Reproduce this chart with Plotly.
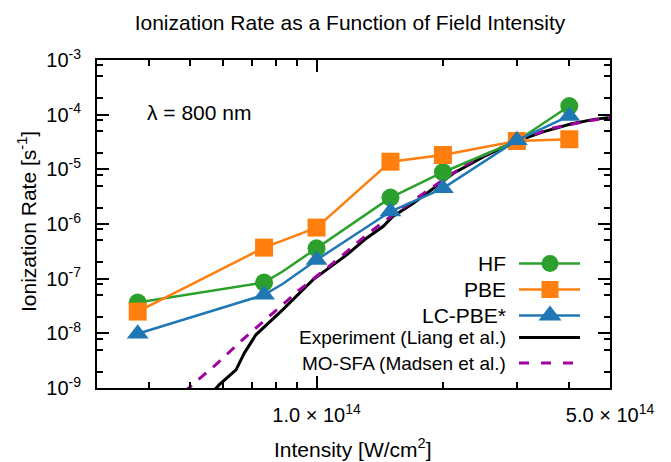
import math
import plotly.graph_objects as go

# ---------------- data ----------------
calc_intensity = [3.75e13, 7.5e13, 1.0e14, 1.5e14, 2.0e14, 3.0e14, 4.0e14]
hf_rate = [3.66e-8, 8.5e-8, 3.6e-7, 3.04e-6, 8.85e-6, 3.3e-5, 1.44e-4]
pbe_rate = [2.5e-8, 3.7e-7, 8.6e-7, 1.38e-5, 1.83e-5, 3.3e-5, 3.55e-5]
lcpbe_rate = [9.8e-9, 5.06e-8, 2.2e-7, 1.69e-6, 4.5e-6, 3.4e-5, 9.5e-5]

# unmarked intermediate point on the HF and LC-PBE* curves
mid_intensity = 8.3e13
hf_mid_rate = 1.35e-7
lcpbe_mid_rate = 8.0e-8

exp_intensity = [5.7e13, 5.86e13, 6.43e13, 6.73e13, 7.17e13, 8.3e13, 9.8e13, 1.18e14,
                 1.315e14, 1.44e14, 1.52e14, 1.70e14, 1.90e14, 2.12e14, 2.50e14,
                 3.0e14, 3.48e14, 4.03e14, 4.58e14, 5.02e14]
exp_rate = [9.0e-10, 1.14e-9, 2.15e-9, 4.35e-9, 9.4e-9, 2.69e-8, 9.5e-8, 2.72e-7,
            5.5e-7, 9.0e-7, 1.37e-6, 2.4e-6, 4.5e-6, 8.5e-6, 1.71e-5,
            3.3e-5, 4.9e-5, 6.76e-5, 8.2e-5, 8.95e-5]

sfa_intensity = [4.84e13, 5.06e13, 5.75e13, 6.66e13, 7.86e13, 9.1e13, 1.094e14, 1.315e14,
                 1.52e14, 1.76e14, 2.08e14, 2.41e14, 3.0e14, 3.61e14, 4.34e14, 5.02e14]
sfa_rate = [8.5e-10, 1.15e-9, 2.65e-9, 7.6e-9, 2.34e-8, 6.2e-8, 1.92e-7, 6.3e-7,
            1.47e-6, 3.17e-6, 7.9e-6, 1.6e-5, 3.3e-5, 5.6e-5, 7.45e-5, 8.95e-5]

x_tick_vals = [1e14, 5e14]
x_tick_text = ["1.0 × 10<sup>14</sup>", "5.0 × 10<sup>14</sup>"]
x_minor_vals = [3e13, 4e13, 5e13, 6e13, 7e13, 8e13, 9e13, 2e14, 3e14, 4e14]
y_tick_vals = [1e-9, 1e-8, 1e-7, 1e-6, 1e-5, 1e-4, 1e-3]
y_tick_text = ["10<sup>-9</sup>", "10<sup>-8</sup>", "10<sup>-7</sup>", "10<sup>-6</sup>",
               "10<sup>-5</sup>", "10<sup>-4</sup>", "10<sup>-3</sup>"]
y_minor_vals = [m * 10.0 ** e for e in range(-9, -3) for m in (2, 5, 8)]

legend_names = ["HF", "PBE", "LC-PBE*", "Experiment (Liang et al.)", "MO-SFA (Madsen et al.)"]

# ---------------- styles ----------------
FONT = "Liberation Sans, Arial, sans-serif"
C_HF, C_PBE, C_LC = "#2ca02c", "#ff7f0e", "#1f77b4"
C_EXP, C_SFA = "#000000", "#a000a0"

W, H = 671, 462
L, R, T, B = 97, 61, 60, 74
PW, PH = W - L - R, H - T - B


def px_to_paper(px, py):
    return (px - L) / PW, (H - B - py) / PH


def with_mid(xs, ys, xm, ym):
    pts = sorted(list(zip(xs, ys)) + [(xm, ym)])
    return [p[0] for p in pts], [p[1] for p in pts]


fig = go.Figure()

# reference curves
fig.add_trace(go.Scatter(x=exp_intensity, y=exp_rate, mode="lines",
                         line=dict(color=C_EXP, width=3), showlegend=False))
fig.add_trace(go.Scatter(x=sfa_intensity, y=sfa_rate, mode="lines",
                         line=dict(color=C_SFA, width=3, dash="10px,9px"), showlegend=False))

# calculated curves
hx, hy = with_mid(calc_intensity, hf_rate, mid_intensity, hf_mid_rate)
lx, ly = with_mid(calc_intensity, lcpbe_rate, mid_intensity, lcpbe_mid_rate)
series = [
    (hx, hy, calc_intensity, hf_rate, C_HF, "circle", 18),
    (calc_intensity, pbe_rate, calc_intensity, pbe_rate, C_PBE, "square", 18),
    (lx, ly, calc_intensity, lcpbe_rate, C_LC, "triangle-up", 19),
]
for lxs, lys, mxs, mys, col, sym, sz in series:
    fig.add_trace(go.Scatter(x=lxs, y=lys, mode="lines",
                             line=dict(color=col, width=2.5), showlegend=False))
    fig.add_trace(go.Scatter(x=mxs, y=mys, mode="markers",
                             marker=dict(color=col, symbol=sym, size=sz, line=dict(width=0)),
                             showlegend=False))

# ---------------- custom legend (symbol to the right of the text) ----------------
leg_rows = [263.5, 289.5, 315.5, 337.5, 363]
leg_styles = [
    dict(color=C_HF, width=2.5, dash="solid", sym="circle", size=17),
    dict(color=C_PBE, width=2.5, dash="solid", sym="square", size=17),
    dict(color=C_LC, width=2.5, dash="solid", sym="triangle-up", size=20),
    dict(color=C_EXP, width=3, dash="solid", sym=None, size=0),
    dict(color=C_SFA, width=3, dash="10px,12px", sym=None, size=0),
]
leg_fonts = [21, 21, 21, 19, 19]
annotations = []
for name, row, st, fs in zip(legend_names, leg_rows, leg_styles, leg_fonts):
    fig.add_trace(go.Scatter(x=[519, 580], y=[row, row], mode="lines", xaxis="x2", yaxis="y2",
                             line=dict(color=st["color"], width=st["width"], dash=st["dash"]),
                             showlegend=False, hoverinfo="skip"))
    if st["sym"]:
        fig.add_trace(go.Scatter(x=[550], y=[row], mode="markers", xaxis="x2", yaxis="y2",
                                 marker=dict(color=st["color"], symbol=st["sym"], size=st["size"]),
                                 showlegend=False, hoverinfo="skip"))
    ax_, ay_ = px_to_paper(508, row)
    annotations.append(dict(text=name, x=ax_, y=ay_, xref="paper", yref="paper",
                            xanchor="right", yanchor="middle", showarrow=False,
                            font=dict(size=fs, color="black", family=FONT)))

lx_, ly_ = px_to_paper(145, 112)
annotations.append(dict(text="λ = 800 nm", x=lx_, y=ly_, xref="paper", yref="paper",
                        xanchor="left", yanchor="middle", showarrow=False,
                        font=dict(size=21, color="black", family=FONT)))
tx, ty = px_to_paper(353, 448)
annotations.append(dict(text="Intensity [W/cm<sup>2</sup>]", x=tx, y=ty, xref="paper", yref="paper",
                        xanchor="center", yanchor="middle", showarrow=False,
                        font=dict(size=21, color="black", family=FONT)))
yx, yy = px_to_paper(27, 222)
annotations.append(dict(text="Ionization Rate [s<sup>-1</sup>]", x=yx, y=yy, xref="paper", yref="paper",
                        xanchor="center", yanchor="middle", showarrow=False, textangle=-90,
                        font=dict(size=21, color="black", family=FONT)))

axis_common = dict(
    type="log", showgrid=False, zeroline=False, showline=True, linecolor="black", linewidth=2,
    mirror="allticks", ticks="inside", ticklen=12, tickwidth=2, tickcolor="black",
    tickfont=dict(size=20, color="black", family=FONT), automargin=False,
    minor=dict(ticks="inside", ticklen=6, tickwidth=2, tickcolor="black", showgrid=False),
)

fig.update_layout(
    width=W, height=H,
    margin=dict(l=L, r=R, t=T, b=B),
    paper_bgcolor="white", plot_bgcolor="white",
    font=dict(family=FONT, color="black"),
    title=dict(text="Ionization Rate as a Function of Field Intensity",
               x=350 / W, y=1 - 23 / H, xref="container", yref="container",
               xanchor="center", yanchor="middle",
               font=dict(size=21, color="black", family=FONT)),
    xaxis=dict(axis_common, range=[math.log10(3e13), math.log10(5e14)],
               tickvals=x_tick_vals, ticktext=x_tick_text, ticklabelstandoff=8,
               minor=dict(axis_common["minor"], tickvals=x_minor_vals)),
    yaxis=dict(axis_common, range=[-9, -3],
               tickvals=y_tick_vals, ticktext=y_tick_text, ticklabelstandoff=10,
               minor=dict(axis_common["minor"], tickvals=y_minor_vals)),
    xaxis2=dict(overlaying="x", range=[L, L + PW], visible=False, anchor="y2"),
    yaxis2=dict(overlaying="y", range=[T + PH, T], visible=False, anchor="x2"),
    annotations=annotations,
    showlegend=False,
)

fig.write_html("out.html", config={"displayModeBar": False},
               post_script="document.body.style.margin='0px';")
